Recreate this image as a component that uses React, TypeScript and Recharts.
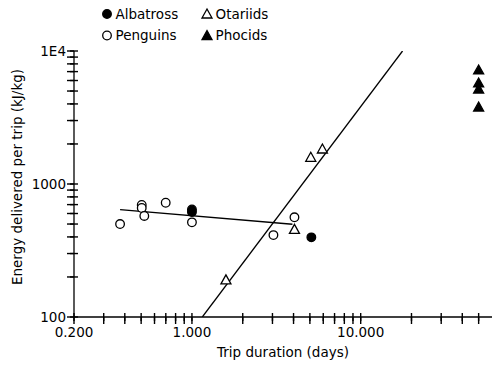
import React from 'react';
import { ScatterChart, Scatter, XAxis, YAxis } from 'recharts';

// trip duration (days) / energy delivered per trip (kJ/kg)
const albatrossDays = [1.0, 1.0, 5.1];
const albatrossEnergy = [643, 616, 397];
const penguinDays = [0.375, 0.504, 0.504, 0.522, 0.699, 1.0, 3.04, 4.05];
const penguinEnergy = [500, 695, 660, 575, 723, 515, 413, 562];
const otariidDays = [1.59, 4.05, 5.06, 5.93];
const otariidEnergy = [190, 456, 1588, 1833];
const phocidDays = [50, 50, 50, 50];
const phocidEnergy = [7200, 5750, 5180, 3790];

// fitted lines (end points)
const penguinFitDays = [0.375, 3.94];
const penguinFitEnergy = [641, 498];
const otariidFitDays = [1.152, 17.7];
const otariidFitEnergy = [100, 10000];

const xMajorTicks = [0.2, 1, 10];
const xMajorLabels = ['0.200', '1.000', '10.000'];
const xMinorTicks = [0.3, 0.4, 0.5, 0.6, 0.7, 0.8, 0.9, 2, 3, 4, 5, 6, 7, 8, 9, 20, 30, 40, 50];
const yMajorTicks = [100, 1000, 10000];
const yMajorLabels = ['100', '1000', '1E4'];
const yMinorTicks = [200, 300, 400, 500, 600, 700, 800, 900, 2000, 3000, 4000, 5000, 6000, 7000, 8000, 9000];

const legendNames = ['Albatross', 'Penguins', 'Otariids', 'Phocids'];
const legendMarkers = ['filledCircle', 'openCircle', 'openTriangle', 'filledTriangle'];

const FONT = '"DejaVu Sans", sans-serif';
const FS = 13.5;
const TICK = 7;   // tickSize given to the axes
const GAP = 2;    // recharts default tickMargin

const xTicks = [...xMajorTicks, ...xMinorTicks].sort((a, b) => a - b);
const yTicks = [...yMajorTicks, ...yMinorTicks].sort((a, b) => a - b);

const toPoints = (xs: number[], ys: number[]) => xs.map((x, i) => ({ x, y: ys[i] }));

const Marker = ({ kind, cx, cy }: { kind: string; cx: number; cy: number }) => {
    if (cx == null || cy == null) return null;
    if (kind === 'filledCircle' || kind === 'openCircle') {
        return (
            <circle cx={cx} cy={cy} r={4.3}
                fill={kind === 'filledCircle' ? '#000' : '#fff'} stroke="#000" strokeWidth={1.3} />
        );
    }
    const pts = `${cx},${cy - 5} ${cx + 5},${cy + 4} ${cx - 5},${cy + 4}`;
    return (
        <polygon points={pts} fill={kind === 'filledTriangle' ? '#000' : '#fff'}
            stroke="#000" strokeWidth={1.3} strokeLinejoin="miter" />
    );
};

// tick mark crossing the axis + label on the decades
const XTick = (props: any) => {
    const { x, y, payload } = props;
    const axisY = y - TICK - GAP;
    const idx = xMajorTicks.indexOf(payload.value);
    return (
        <g>
            <line x1={x} x2={x} y1={axisY - 4} y2={axisY + 4} stroke="#000" strokeWidth={1.4} />
            {idx >= 0 && (
                <text x={x} y={axisY + 20} textAnchor="middle" fontFamily={FONT} fontSize={FS} fill="#000">
                    {xMajorLabels[idx]}
                </text>
            )}
        </g>
    );
};

const YTick = (props: any) => {
    const { x, y, payload } = props;
    const axisX = x + TICK + GAP;
    const idx = yMajorTicks.indexOf(payload.value);
    return (
        <g>
            <line x1={axisX - 4} x2={axisX + 4} y1={y} y2={y} stroke="#000" strokeWidth={1.4} />
            {idx >= 0 && (
                <text x={axisX - 8} y={y + 5} textAnchor="end" fontFamily={FONT} fontSize={FS} fill="#000">
                    {yMajorLabels[idx]}
                </text>
            )}
        </g>
    );
};

// legend and axis titles, laid over the chart
const Overlay = () => (
    <svg width={492} height={365} style={{ position: 'absolute', left: 0, top: 0, pointerEvents: 'none' }}>
        {legendNames.map((name, i) => {
            const col = Math.floor(i / 2);
            const row = i % 2;
            const mx = 107 + col * 100;
            const my = 14 + row * 21.5;
            return (
                <g key={name}>
                    <Marker kind={legendMarkers[i]} cx={mx} cy={my} />
                    <text x={mx + 8.5} y={my + 4.8} fontFamily={FONT} fontSize={FS} fill="#000">{name}</text>
                </g>
            );
        })}
        <text x={283} y={357} textAnchor="middle" fontFamily={FONT} fontSize={FS} fill="#000">
            Trip duration (days)
        </text>
        <text x={22} y={177} textAnchor="middle" transform="rotate(-90, 22, 177)"
            fontFamily={FONT} fontSize={FS} fill="#000">
            Energy delivered per trip (kJ/kg)
        </text>
    </svg>
);

export default function App() {
    return (
        <div style={{ position: 'absolute', left: 0, top: 0, width: 492, height: 365, background: '#fff' }}>
            <ScatterChart width={492} height={365} margin={{ top: 51, right: 0, bottom: 0, left: 0 }}>
                <XAxis type="number" dataKey="x" scale="log" domain={[0.2, 60]} allowDataOverflow
                    ticks={xTicks} interval={0} height={48} tickSize={TICK}
                    tickLine={{ stroke: '#000', strokeWidth: 1.4 }}
                    axisLine={{ stroke: '#000', strokeWidth: 1.3 }} tick={(p: any) => <XTick {...p} />} />
                <YAxis type="number" dataKey="y" scale="log" domain={[100, 10000]} allowDataOverflow
                    ticks={yTicks} interval={0} width={74} tickSize={TICK}
                    tickLine={{ stroke: '#000', strokeWidth: 1.4 }}
                    axisLine={{ stroke: '#000', strokeWidth: 1.3 }} tick={(p: any) => <YTick {...p} />} />
                <Scatter data={toPoints(penguinFitDays, penguinFitEnergy)}
                    line={{ stroke: '#000', strokeWidth: 1.3 }} shape={() => <g />} isAnimationActive={false} />
                <Scatter data={toPoints(otariidFitDays, otariidFitEnergy)}
                    line={{ stroke: '#000', strokeWidth: 1.3 }} shape={() => <g />} isAnimationActive={false} />
                <Scatter data={toPoints(penguinDays, penguinEnergy)} isAnimationActive={false}
                    shape={(p: any) => <Marker kind="openCircle" cx={p.cx} cy={p.cy} />} />
                <Scatter data={toPoints(otariidDays, otariidEnergy)} isAnimationActive={false}
                    shape={(p: any) => <Marker kind="openTriangle" cx={p.cx} cy={p.cy} />} />
                <Scatter data={toPoints(albatrossDays, albatrossEnergy)} isAnimationActive={false}
                    shape={(p: any) => <Marker kind="filledCircle" cx={p.cx} cy={p.cy} />} />
                <Scatter data={toPoints(phocidDays, phocidEnergy)} isAnimationActive={false}
                    shape={(p: any) => <Marker kind="filledTriangle" cx={p.cx} cy={p.cy} />} />
            </ScatterChart>
            <Overlay />
        </div>
    );
}
